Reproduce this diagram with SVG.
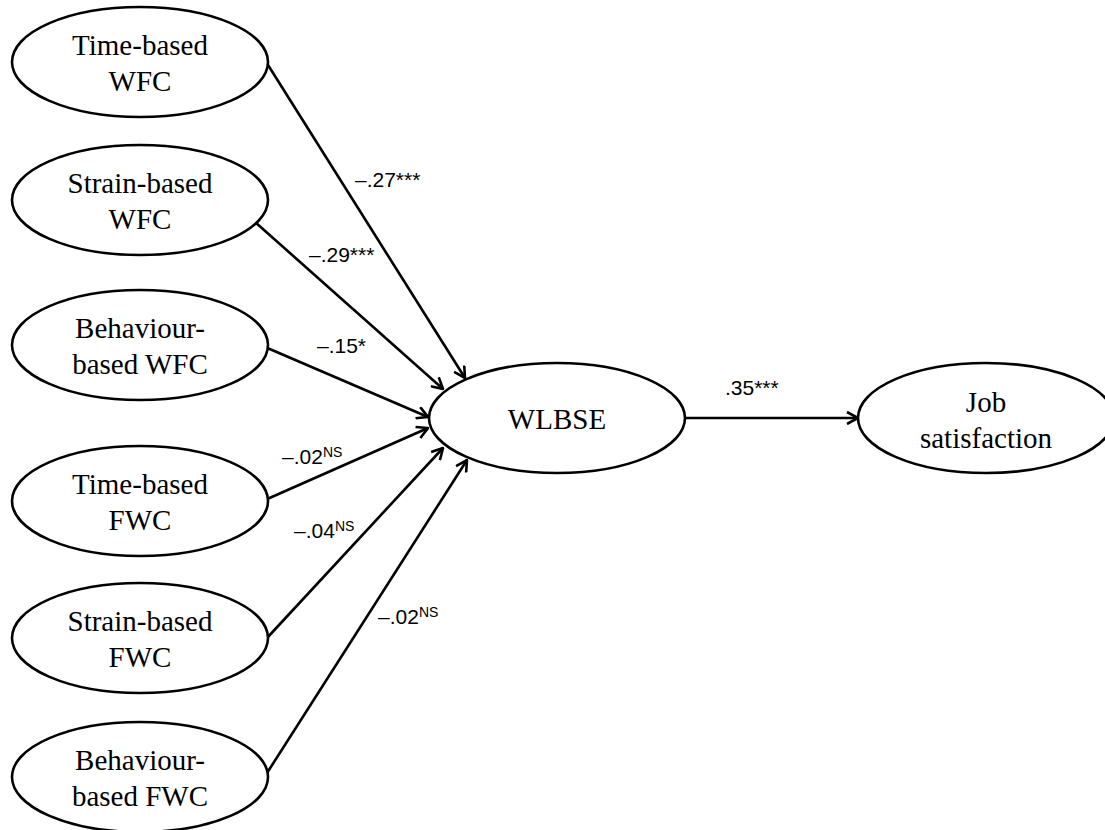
<svg xmlns="http://www.w3.org/2000/svg" width="1105" height="830" viewBox="0 0 1105 830">
  <style>
    .node ellipse { fill: #fff; stroke: #000; stroke-width: 2.6; }
    .node text { font-family: "Liberation Serif", "Times New Roman", serif; font-size: 29px; fill: #000; text-anchor: middle; }
    .edge { stroke: #000; stroke-width: 2.6; fill: none; marker-end: url(#arr); }
    .coef { font-family: "Liberation Sans", Arial, sans-serif; font-size: 21px; fill: #000; }
    .sup { font-size: 14px; }
  </style>
  <defs>
    <marker id="arr" viewBox="0 0 14 14" refX="13" refY="7" markerWidth="14" markerHeight="14" markerUnits="userSpaceOnUse" orient="auto">
      <path d="M2,1 L13,7 L2,13" fill="none" stroke="#000" stroke-width="2.6" stroke-linejoin="miter"/>
    </marker>
  </defs>
  <rect width="1105" height="830" fill="#fff"/>

  <!-- Paths from predictors to WLBSE, and WLBSE to outcome -->
  <g id="connectors">
    <line class="edge" x1="268" y1="65" x2="465" y2="378"/>
    <line class="edge" x1="255" y1="222" x2="443" y2="389"/>
    <line class="edge" x1="265" y1="347" x2="428" y2="417"/>
    <line class="edge" x1="265" y1="500" x2="428" y2="428"/>
    <line class="edge" x1="267" y1="638" x2="443" y2="448"/>
    <line class="edge" x1="267" y1="773" x2="467" y2="460"/>
    <line class="edge" x1="685" y1="418" x2="858" y2="418"/>
  </g>

  <!-- Path coefficients -->
  <g id="coefficients">
    <text class="coef" x="355" y="187">–.27***</text>
    <text class="coef" x="309" y="262">–.29***</text>
    <text class="coef" x="317" y="353">–.15*</text>
    <text class="coef" x="282" y="464">–.02<tspan class="sup" dy="-7">NS</tspan></text>
    <text class="coef" x="294" y="538">–.04<tspan class="sup" dy="-7">NS</tspan></text>
    <text class="coef" x="378" y="624">–.02<tspan class="sup" dy="-7">NS</tspan></text>
    <text class="coef" x="725" y="395">.35***</text>
  </g>

  <g id="time-wfc" class="node">
    <ellipse cx="140" cy="62" rx="128" ry="55"/>
    <text x="140" y="55">Time-based</text>
    <text x="140" y="91">WFC</text>
  </g>
  <g id="strain-wfc" class="node">
    <ellipse cx="140" cy="200" rx="128" ry="55"/>
    <text x="140" y="193">Strain-based</text>
    <text x="140" y="229">WFC</text>
  </g>
  <g id="behaviour-wfc" class="node">
    <ellipse cx="140" cy="345" rx="128" ry="55"/>
    <text x="140" y="338">Behaviour-</text>
    <text x="140" y="374">based WFC</text>
  </g>
  <g id="time-fwc" class="node">
    <ellipse cx="140" cy="501" rx="128" ry="55"/>
    <text x="140" y="494">Time-based</text>
    <text x="140" y="530">FWC</text>
  </g>
  <g id="strain-fwc" class="node">
    <ellipse cx="140" cy="638" rx="128" ry="55"/>
    <text x="140" y="631">Strain-based</text>
    <text x="140" y="667">FWC</text>
  </g>
  <g id="behaviour-fwc" class="node">
    <ellipse cx="140" cy="777" rx="128" ry="55"/>
    <text x="140" y="770">Behaviour-</text>
    <text x="140" y="806">based FWC</text>
  </g>
  <g id="wlbse" class="node">
    <ellipse cx="557" cy="418" rx="128" ry="55"/>
    <text x="557" y="429">WLBSE</text>
  </g>
  <g id="job-satisfaction" class="node">
    <ellipse cx="986" cy="418" rx="128" ry="55"/>
    <text x="986" y="412">Job</text>
    <text x="986" y="448">satisfaction</text>
  </g>
</svg>
